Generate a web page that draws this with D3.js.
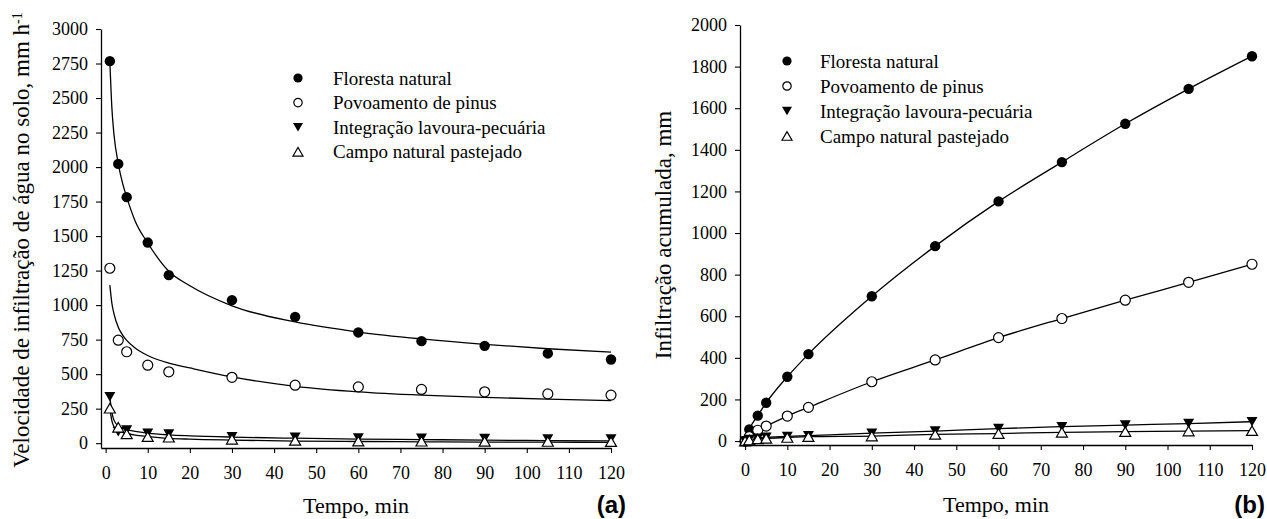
<!DOCTYPE html>
<html>
<head>
<meta charset="utf-8">
<script src="https://cdn.jsdelivr.net/npm/d3@7"></script>
<style>
  body { margin: 0; background: #fff; }
  svg { display: block; }
  .tick text { font-family: 'Liberation Serif', 'Times New Roman', serif; }
</style>
</head>
<body>
<div id="chart"></div>
<script>
// Series, in legend order
const seriesNames = ["Floresta natural", "Povoamento de pinus", "Integração lavoura-pecuária", "Campo natural pastejado"];
const seriesSymbols = ["dot", "circle", "down", "up"];

// (a) Infiltration rate (mm h-1) measured at each time
const tempoA = [1, 3, 5, 10, 15, 30, 45, 60, 75, 90, 105, 120];
const velFloresta = [2767, 2023, 1782, 1453, 1217, 1036, 915, 802, 739, 705, 650, 606];
const velPinus = [1267, 746, 662, 565, 517, 477, 420, 408, 389, 372, 357, 348];
const velIntegracao = [337, 83, 96, 72, 67, 47, 42, 38, 36, 33, 31, 30];
const velCampo = [253, 115, 67, 47, 43, 28, 20, 15, 14, 13, 12, 11];

// (a) Fitted curves
const tempoAjuste = [1, 1.5, 2, 3, 4, 5, 7, 10, 15, 20, 30, 45, 60, 75, 90, 105, 120];
const ajusteFloresta = [2767, 2420, 2230, 2025, 1885, 1782, 1610, 1450, 1245, 1140, 995, 878, 805, 755, 716, 684, 659];
const ajustePinus = [1145, 1010, 935, 840, 785, 745, 690, 635, 580, 545, 480, 412, 372, 348, 332, 319, 308];
const ajusteIntegracao = [335, 220, 165, 125, 108, 98, 85, 72, 60, 53, 44, 36, 30, 26, 22, 19, 16];
const ajusteCampo = [250, 160, 118, 90, 78, 70, 58, 48, 35, 29, 22, 15, 12, 10, 8, 7, 6];

// (b) Cumulative infiltration (mm)
const tempoB = [0, 1, 3, 5, 10, 15, 30, 45, 60, 75, 90, 105, 120];
const acumFloresta = [0, 56, 122, 184, 309, 418, 696, 937, 1152, 1341, 1525, 1693, 1850];
const acumPinus = [0, 21, 52, 72, 120, 162, 285, 390, 497, 589, 677, 763, 850];
const acumIntegracao = [0, 8, 14, 18, 22, 26, 38, 48, 60, 69, 77, 84, 93];
const acumCampo = [0, 5, 10, 13, 17, 21, 24, 32, 36, 42, 45, 48, 50];

// Tick values
const ticksX = [0, 10, 20, 30, 40, 50, 60, 70, 80, 90, 100, 110, 120];
const ticksYA = [0, 250, 500, 750, 1000, 1250, 1500, 1750, 2000, 2250, 2500, 2750, 3000];
const ticksYB = [0, 200, 400, 600, 800, 1000, 1200, 1400, 1600, 1800, 2000];

const serif = "'Liberation Serif', 'Times New Roman', serif";
const W = 1267, H = 519;

const svg = d3.select("#chart").append("svg")
    .attr("width", W)
    .attr("height", H);

// Triangle marker path centred on its bounding box
function triangle(w, h, down) {
    const p = d3.path();
    if (down) {
        p.moveTo(-w / 2, -h / 2); p.lineTo(w / 2, -h / 2); p.lineTo(0, h / 2);
    } else {
        p.moveTo(-w / 2, h / 2); p.lineTo(w / 2, h / 2); p.lineTo(0, -h / 2);
    }
    p.closePath();
    return p.toString();
}

// Draw one marker of the given type into a selection
function addMarker(sel, type, big) {
    const r = big ? 5.2 : 4.6;
    const w = big ? 11 : 10, h = big ? 9.5 : 8.5;
    if (type === "dot") {
        sel.append("circle").attr("r", r).attr("fill", "#000");
    } else if (type === "circle") {
        sel.append("circle").attr("r", big ? 5 : 4.2).attr("fill", "#fff")
            .attr("stroke", "#000").attr("stroke-width", 1.2);
    } else if (type === "down") {
        sel.append("path").attr("d", triangle(w, h, true)).attr("fill", "#000");
    } else {
        sel.append("path").attr("d", triangle(w, h, false)).attr("fill", "#fff")
            .attr("stroke", "#000").attr("stroke-width", 1.2);
    }
}

function drawPanel(cfg) {
    const g = svg.append("g");

    const x = d3.scaleLinear().domain(cfg.xDomain).range(cfg.xRange);
    const y = d3.scaleLinear().domain(cfg.yDomain).range(cfg.yRange);

    // Fitted lines
    const line = d3.line()
        .x(d => x(d[0]))
        .y(d => y(d[1]))
        .curve(d3.curveMonotoneX);

    cfg.curves.forEach(c => {
        g.append("path")
            .datum(c.t.map((t, i) => [t, c.v[i]]))
            .attr("fill", "none")
            .attr("stroke", "#000")
            .attr("stroke-width", 1.3)
            .attr("d", line);
    });

    // Observed points
    cfg.points.forEach((s, k) => {
        g.append("g")
            .selectAll("g")
            .data(s.t.map((t, i) => [t, s.v[i]]))
            .join("g")
            .attr("transform", d => `translate(${x(d[0])},${y(d[1])})`)
            .each(function () { addMarker(d3.select(this), seriesSymbols[k], true); });
    });

    // Axes (plain integer labels, no thousands separator)
    const xAxis = g.append("g")
        .attr("transform", `translate(0,${cfg.yRange[0]})`)
        .call(d3.axisBottom(x).tickValues(ticksX).tickFormat(d3.format("d"))
            .tickSize(5).tickSizeOuter(0).tickPadding(13.5));
    const yAxis = g.append("g")
        .attr("transform", `translate(${cfg.xRange[0]},0)`)
        .call(d3.axisLeft(y).tickValues(cfg.yTicks).tickFormat(d3.format("d"))
            .tickSize(5).tickSizeOuter(0).tickPadding(8));

    [xAxis, yAxis].forEach(a => {
        a.attr("font-family", serif).attr("font-size", 18);
        a.select(".domain").attr("stroke-width", 1.3);
        a.selectAll(".tick line").attr("stroke-width", 1.1);
        a.selectAll("text")
            .attr("font-family", serif)
            .attr("font-size", 18)
            .attr("fill", "#000");
    });

    // Legend
    const legend = g.selectAll(".legend")
        .data(seriesNames)
        .join("g")
        .attr("transform", (d, i) => `translate(${cfg.legendX},${cfg.legendY + i * cfg.legendStep})`);

    legend.each(function (d, i) { addMarker(d3.select(this), seriesSymbols[i], false); });

    legend.append("text")
        .attr("x", cfg.legendTextDx)
        .attr("dy", "0.35em")
        .attr("font-family", serif)
        .attr("font-size", 19)
        .text(d => d);

    // Axis titles
    g.append("text")
        .attr("x", (cfg.xRange[0] + cfg.xRange[1]) / 2)
        .attr("y", cfg.xTitleY)
        .attr("text-anchor", "middle")
        .attr("font-family", serif)
        .attr("font-size", 22)
        .text("Tempo, min");

    const yt = g.append("text")
        .attr("transform", `translate(${cfg.yTitleX},${cfg.yTitleY}) rotate(-90)`)
        .attr("text-anchor", "middle")
        .attr("font-family", serif)
        .attr("font-size", 23)
        .text(cfg.yTitle);
    if (cfg.yTitleSup) {
        yt.append("tspan")
            .attr("dy", "-0.5em")
            .attr("font-size", 14)
            .text(cfg.yTitleSup);
    }

    // Panel letter
    g.append("text")
        .attr("x", cfg.letterX)
        .attr("y", cfg.letterY)
        .attr("text-anchor", "end")
        .attr("font-family", "'Liberation Sans', Arial, sans-serif")
        .attr("font-weight", "bold")
        .attr("font-size", 24)
        .text(cfg.letter);
}

// Panel (a)
drawPanel({
    xDomain: [-1.1, 120], xRange: [101, 611],
    yDomain: [-35, 3000], yRange: [448, 29],
    yTicks: ticksYA,
    curves: [
        { t: tempoAjuste, v: ajusteFloresta },
        { t: tempoAjuste, v: ajustePinus },
        { t: tempoAjuste, v: ajusteIntegracao },
        { t: tempoAjuste, v: ajusteCampo }
    ],
    points: [
        { t: tempoA, v: velFloresta },
        { t: tempoA, v: velPinus },
        { t: tempoA, v: velIntegracao },
        { t: tempoA, v: velCampo }
    ],
    legendX: 298, legendY: 78, legendStep: 24.6, legendTextDx: 35,
    xTitleY: 513,
    yTitle: "Velocidade de infiltração de água no solo, mm h",
    yTitleSup: "-1",
    yTitleX: 29, yTitleY: 240,
    letter: "(a)", letterX: 626, letterY: 513
});

// Panel (b)
drawPanel({
    xDomain: [-1.2, 120], xRange: [740, 1252],
    yDomain: [-19, 2000], yRange: [445, 25],
    yTicks: ticksYB,
    curves: [
        { t: tempoB, v: acumFloresta },
        { t: tempoB, v: acumPinus },
        { t: tempoB, v: acumIntegracao },
        { t: tempoB, v: acumCampo }
    ],
    points: [
        { t: tempoB, v: acumFloresta },
        { t: tempoB, v: acumPinus },
        { t: tempoB, v: acumIntegracao },
        { t: tempoB, v: acumCampo }
    ],
    legendX: 787, legendY: 61, legendStep: 25, legendTextDx: 33,
    xTitleY: 512,
    yTitle: "Infiltração acumulada, mm",
    yTitleX: 671, yTitleY: 235,
    letter: "(b)", letterX: 1265, letterY: 513
});
</script>
</body>
</html>
